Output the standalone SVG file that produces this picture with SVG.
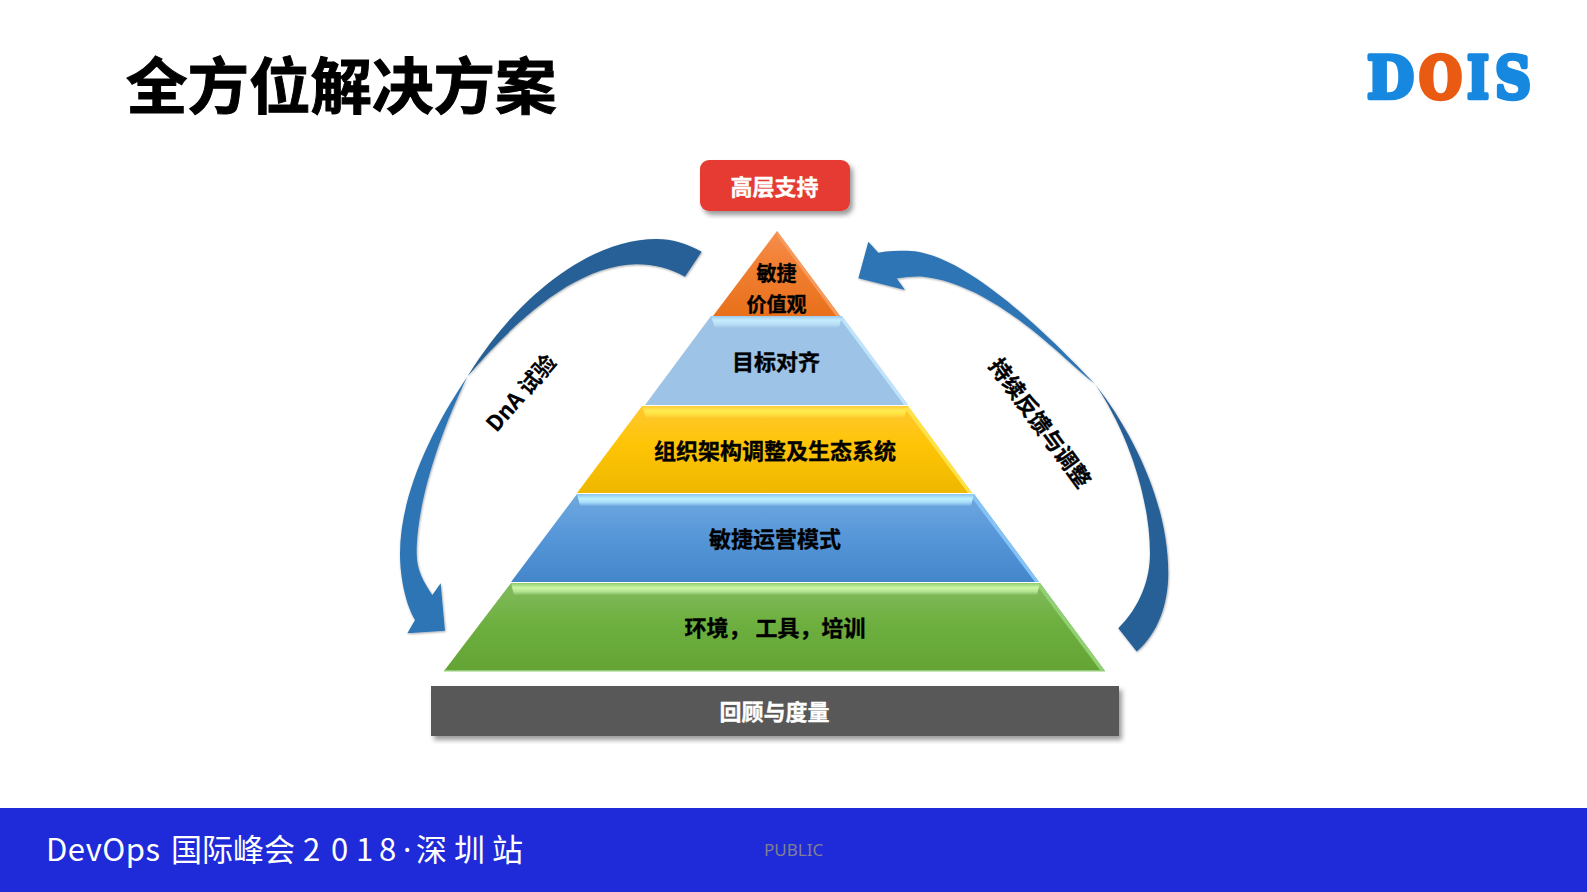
<svg xmlns="http://www.w3.org/2000/svg" width="1587" height="892" viewBox="0 0 1587 892">
<style>
.l{font-family:"Noto Sans CJK SC","Noto Sans",sans-serif;font-weight:700;font-size:22px;text-anchor:middle;fill:#000;stroke:#000;stroke-width:.35px}
.w{fill:#fff;stroke:#fff}
.f{font-family:"Noto Sans CJK SC","Noto Sans",sans-serif;font-size:31px;fill:#fff}
.logo{font-family:"DejaVu Serif",serif;font-weight:700;font-size:57px;stroke-width:4.5px;stroke-linejoin:round}
.b{fill:#1788e0;stroke:#1788e0}
.o{fill:#e95b13;stroke:#e95b13}
</style>
<defs>
<filter id="sh" x="-15%" y="-15%" width="130%" height="130%"><feDropShadow dx="3" dy="4" stdDeviation="2.5" flood-color="#000" flood-opacity=".4"/></filter>
<filter id="sa" x="-15%" y="-15%" width="130%" height="130%"><feDropShadow dx="2" dy="3" stdDeviation="2.5" flood-color="#000" flood-opacity=".35"/></filter>
<linearGradient id="g1" x1="0" y1="0" x2="0" y2="1"><stop offset="0" stop-color="#f58f4e"/><stop offset=".35" stop-color="#f28136"/><stop offset="1" stop-color="#e8701a"/></linearGradient>
<linearGradient id="g3" x1="0" y1="0" x2="0" y2="1"><stop offset="0" stop-color="#ffc830"/><stop offset=".45" stop-color="#fec406"/><stop offset="1" stop-color="#eeb800"/></linearGradient>
<linearGradient id="g4" x1="0" y1="0" x2="0" y2="1"><stop offset="0" stop-color="#6fa8e0"/><stop offset=".5" stop-color="#5596d8"/><stop offset="1" stop-color="#4486ca"/></linearGradient>
<linearGradient id="g5" x1="0" y1="0" x2="0" y2="1"><stop offset="0" stop-color="#82ba5e"/><stop offset=".45" stop-color="#6eb040"/><stop offset="1" stop-color="#63a435"/></linearGradient>
<linearGradient id="b2" x1="0" y1="0" x2="0" y2="1"><stop offset="0" stop-color="#9dc9ec"/><stop offset=".35" stop-color="#c4ecfd"/><stop offset=".7" stop-color="#b8def6"/><stop offset="1" stop-color="#9dc3e6"/></linearGradient>
<linearGradient id="b3" x1="0" y1="0" x2="0" y2="1"><stop offset="0" stop-color="#ffc93a"/><stop offset=".4" stop-color="#ffec50"/><stop offset=".7" stop-color="#ffe040"/><stop offset="1" stop-color="#ffc830"/></linearGradient>
<linearGradient id="b4" x1="0" y1="0" x2="0" y2="1"><stop offset="0" stop-color="#8cc4ee"/><stop offset=".4" stop-color="#bdf2ff"/><stop offset=".7" stop-color="#a6dcf8"/><stop offset="1" stop-color="#6fa8e0"/></linearGradient>
<linearGradient id="b5" x1="0" y1="0" x2="0" y2="1"><stop offset="0" stop-color="#8fcb6d"/><stop offset=".4" stop-color="#cdf7a8"/><stop offset=".7" stop-color="#b4e592"/><stop offset="1" stop-color="#82ba5e"/></linearGradient>
</defs>
<rect width="1587" height="892" fill="#fff"/>
<g id="title"><text x="126" y="109" style="font-family:'Noto Sans CJK SC',sans-serif;font-weight:700;font-size:61.5px;fill:#000;stroke:#000;stroke-width:1px">全方位解决方案</text></g>
<g id="logo">
<text class="logo b" x="1367" y="98" textLength="47" lengthAdjust="spacingAndGlyphs">D</text>
<text class="logo o" x="1419" y="98" textLength="43" lengthAdjust="spacingAndGlyphs">O</text>
<text class="logo b" x="1467" y="98" textLength="22" lengthAdjust="spacingAndGlyphs">I</text>
<text class="logo b" x="1495" y="98" textLength="36" lengthAdjust="spacingAndGlyphs">S</text>
</g>
<g id="connectors">
<g id="arrow-left" transform="translate(390 220) scale(.3333)" filter="url(#sa)">
<path fill="#266196" d="M935,95 C890,70 845,57 800,57 C620,57 400,200 232,470 C360,320 550,135 740,133 C790,133 840,145 885,170 Z"/>
<path fill="#2e75b6" d="M232,470 C110,650 30,840 30,1000 C30,1080 50,1160 75,1200 L52,1240 L165,1232 L152,1090 L127,1125 C100,1085 80,1050 80,1000 C80,860 140,660 232,470 Z"/>
</g>
<g id="arrow-right" transform="translate(850 230) scale(.3333)" filter="url(#sa)">
<path fill="#2e75b6" d="M735,462 C595,315 340,62 170,62 C145,62 115,62 85,68 L55,35 L25,145 L165,180 L140,145 C165,142 195,138 220,140 C440,165 640,390 735,462 Z"/>
<path fill="#266196" d="M735,462 C850,610 955,820 955,1030 C955,1120 925,1210 860,1265 L805,1195 C870,1130 900,1050 900,970 C900,800 830,600 735,462 Z"/>
</g>
</g>
<g id="node-top"><rect x="700" y="160" width="150" height="51" rx="9" fill="#e53a30" filter="url(#sh)"/><text class="l w" x="774.5" y="195">高层支持</text></g>
<g id="layer-1"><path d="M777,231 L840,316 L713,316 Z" fill="url(#g1)"/><path d="M777,231 L840,316 L836,316 L777,236 Z" fill="#f79a5c"/><text class="l" x="776.5" y="281" style="font-size:20px">敏捷</text><text class="l" x="776.5" y="312" style="font-size:20px">价值观</text></g>
<g id="layer-2"><path d="M711,316 L842,316 L908,405 L645,405 Z" fill="#9dc3e6"/><path d="M842,316 L908,405 L904,405 L841,320 Z" fill="#bfe3fb"/><path d="M711,316 L842,316 L839,328 L715,328 Z" fill="url(#b2)"/><text class="l" x="776" y="370">目标对齐</text></g>
<g id="layer-3"><path d="M642,406 L908,406 L972,493 L577,493 Z" fill="url(#g3)"/><path d="M908,406 L972,493 L968,493 L906,410 Z" fill="#ffe24a"/><path d="M642,406 L908,406 L904,418 L646,418 Z" fill="url(#b3)"/><text class="l" x="775" y="459">组织架构调整及生态系统</text></g>
<g id="layer-4"><path d="M577,494 L974,494 L1039,582 L511,582 Z" fill="url(#g4)"/><path d="M974,494 L1039,582 L1035,582 L972,498 Z" fill="#85c3f7"/><path d="M577,494 L974,494 L971,506 L580,506 Z" fill="url(#b4)"/><text class="l" x="775" y="547">敏捷运营模式</text></g>
<g id="layer-5"><path d="M511,583 L1040,583 L1105,671 L444,671 Z" fill="url(#g5)"/><path d="M1040,583 L1105,671 L1100,670 L1038,587 Z" fill="#92d074"/><path d="M511,583 L1040,583 L1037,595 L514,595 Z" fill="url(#b5)"/><rect x="444" y="670" width="661" height="1.5" fill="#93cc77"/><text class="l" x="775" y="636" xml:space="preserve">环境， 工具，培训</text></g>
<g id="node-bottom"><rect x="431" y="686" width="688" height="50" fill="#595959" filter="url(#sh)"/><text class="l w" x="774.5" y="720">回顾与度量</text></g>
<g id="label-left"><text class="l" style="stroke-width:.15px" transform="translate(521 393) rotate(-49)" y="8">DnA 试验</text></g>
<g id="label-right"><text class="l" transform="translate(1040 423) rotate(53.6)" y="8">持续反馈与调整</text></g>
<g id="footer"><rect y="808" width="1587" height="84" fill="#1f2bd9"/>
<text class="f" y="861"><tspan x="46" letter-spacing=".5">DevOps</tspan><tspan x="171">国际峰会</tspan><tspan x="303">2</tspan><tspan x="331">0</tspan><tspan x="356">1</tspan><tspan x="379">8</tspan><tspan x="403" style="font-family:'Noto Sans',sans-serif">·</tspan><tspan x="416">深</tspan><tspan x="454">圳</tspan><tspan x="492">站</tspan></text>
<text x="764" y="856" style="font-family:'Noto Sans',sans-serif;font-size:17px;fill:#80808f">PUBLIC</text></g>
</svg>
